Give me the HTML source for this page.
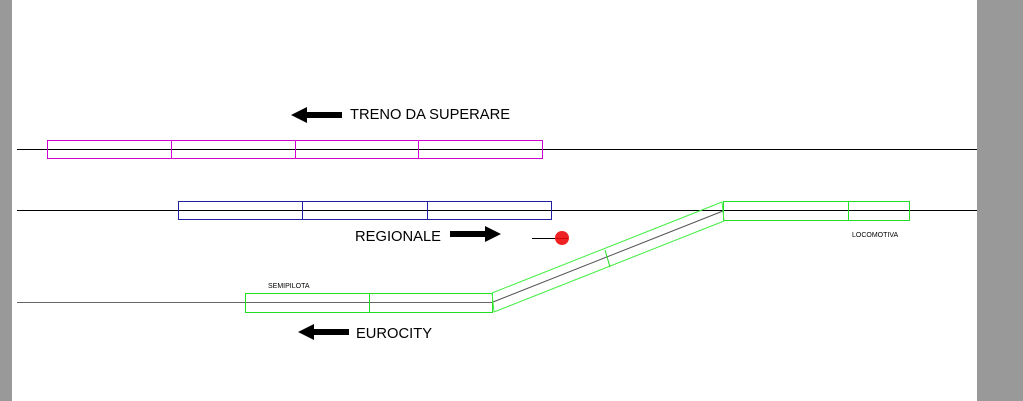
<!DOCTYPE html>
<html><head><style>
html,body{margin:0;padding:0;background:#fff}
</style></head><body>
<svg width="1023" height="401" viewBox="0 0 1023 401" xmlns="http://www.w3.org/2000/svg" style="display:block">
<rect x="0" y="0" width="1023" height="401" fill="#fff"/>
<rect x="0" y="0" width="12" height="401" fill="#999"/>
<rect x="977" y="0" width="46" height="401" fill="#999"/>
<g shape-rendering="crispEdges" fill="none">
<line x1="17" y1="149.5" x2="977" y2="149.5" stroke="#000"/>
<line x1="17" y1="210.5" x2="977" y2="210.5" stroke="#000"/>
<line x1="17" y1="302.5" x2="493" y2="302.5" stroke="#666"/>
<path d="M47.5 140.5H542.5V158.5H47.5Z M171.5 140V159 M295.5 140V159 M418.5 140V159" stroke="#d000d0"/>
<path d="M178.5 201.5H551.5V219.5H178.5Z M302.5 201V220 M427.5 201V220" stroke="#2020a0"/>
<path d="M723.5 201.5H909.5V220.5H723.5Z M848.5 201V221" stroke="#22dd22"/>
<path d="M245.5 293.5H492.5V312.5H245.5Z M369.5 293V313" stroke="#22dd22"/>
</g>
<line x1="492" y1="293" x2="722" y2="202" stroke="#44ee44"/>
<line x1="494" y1="312" x2="724" y2="221" stroke="#44ee44"/>
<line x1="493" y1="302" x2="723" y2="211" stroke="#555"/>
<line x1="605" y1="250" x2="610" y2="267" stroke="#22dd22"/>
<line x1="492" y1="293" x2="494" y2="312" stroke="#44ee44"/>
<line x1="722" y1="202" x2="724" y2="221" stroke="#44ee44"/>
<line x1="532" y1="238.5" x2="556" y2="238.5" stroke="#000"/>
<circle cx="562" cy="238" r="7" fill="#ee2222"/>
<line x1="556" y1="238.5" x2="568" y2="238.5" stroke="#c00" stroke-width="0.8"/>
<polygon points="291,115 307,107 307,112 342,112 342,118 307,118 307,123" fill="#000"/>
<polygon points="501,234 485,226 485,231 450,231 450,237 485,237 485,242" fill="#000"/>
<polygon points="298,332 314,324 314,329 349,329 349,335 314,335 314,340" fill="#000"/>
<g font-family="Liberation Sans, sans-serif" fill="#000">
<text x="350" y="119" font-size="14.5" textLength="160" lengthAdjust="spacingAndGlyphs">TRENO DA SUPERARE</text>
<text x="355" y="241" font-size="14.5" textLength="86" lengthAdjust="spacingAndGlyphs">REGIONALE</text>
<text x="356" y="338" font-size="14.5" textLength="76" lengthAdjust="spacingAndGlyphs">EUROCITY</text>
<text x="852" y="237" font-size="7">LOCOMOTIVA</text>
<text x="268" y="288" font-size="7">SEMIPILOTA</text>
</g>
</svg>
</body></html>
